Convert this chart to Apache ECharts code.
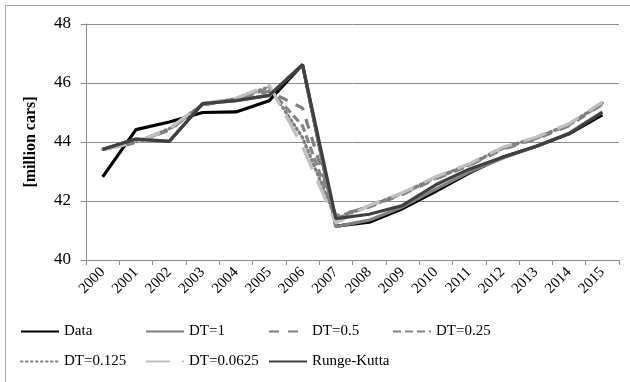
<!DOCTYPE html>
<html>
<head>
<meta charset="utf-8">
<script src="https://cdn.jsdelivr.net/npm/echarts@6/dist/echarts.min.js"></script>
<style>
  html, body { margin: 0; padding: 0; background: #fff; }
  #chart { width: 630px; height: 382px; }
</style>
</head>
<body>
<div id="chart"></div>
<script>
// Car stock, observed vs. simulated with different integration steps
const years = ['2000','2001','2002','2003','2004','2005','2006','2007','2008','2009','2010','2011','2012','2013','2014','2015'];

const observed = [42.82, 44.42, 44.68, 45.00, 45.02, 45.40, 46.62, 41.15, 41.28, 41.74, 42.33, 42.95, 43.48, 43.85, 44.28, 44.92];
const dt1      = [43.75, 44.10, 44.02, 45.30, 45.40, 45.58, 46.62, 41.13, 41.35, 41.80, 42.40, 42.98, 43.45, 43.85, 44.30, 45.02];
const dt05     = [43.75, 43.98, 44.40, 45.25, 45.45, 45.72, 45.15, 41.50, 41.80, 42.22, 42.75, 43.20, 43.75, 44.10, 44.55, 45.28];
const dt025    = [43.75, 43.98, 44.42, 45.27, 45.45, 45.80, 44.55, 41.45, 41.82, 42.25, 42.78, 43.22, 43.78, 44.12, 44.58, 45.30];
const dt0125   = [43.75, 44.00, 44.45, 45.28, 45.47, 45.87, 44.15, 41.40, 41.83, 42.27, 42.80, 43.24, 43.80, 44.14, 44.60, 45.32];
const dt00625  = [43.75, 44.00, 44.45, 45.30, 45.48, 45.93, 43.85, 41.25, 41.85, 42.28, 42.82, 43.26, 43.82, 44.16, 44.62, 45.35];
const rungeKutta = [43.75, 44.10, 44.02, 45.30, 45.40, 45.58, 46.62, 41.40, 41.55, 41.85, 42.55, 43.08, 43.48, 43.85, 44.28, 45.00];

const yTicks = { min: 40, max: 48, interval: 2 };

const FONT = '"Liberation Serif", "Times New Roman", serif';

const seriesDefs = [
  { name: 'Data',         values: observed,   color: '#000000', type: 'solid' },
  { name: 'DT=1',         values: dt1,        color: '#7f7f7f', type: 'solid' },
  { name: 'DT=0.5',       values: dt05,       color: '#808080', type: [10, 9] },
  { name: 'DT=0.25',      values: dt025,      color: '#858585', type: [8, 4] },
  { name: 'DT=0.125',     values: dt0125,     color: '#7f7f7f', type: [1.5, 3.5], cap: 'round' },
  { name: 'DT=0.0625',    values: dt00625,    color: '#c0c0c0', type: [24, 12] },
  { name: 'Runge-Kutta',  values: rungeKutta, color: '#404040', type: 'solid' }
];

// legend slots: [left, top] for each entry, two rows
const legendSlots = [[20, 324], [145, 324], [268, 324], [392, 324], [20, 354], [145, 354], [268, 354]];

const legends = seriesDefs.map((s, i) => ({
  data: [s.name],
  left: legendSlots[i][0],
  top: legendSlots[i][1],
  padding: 0,
  itemWidth: 38,
  itemHeight: 16,
  itemGap: 0,
  itemStyle: { opacity: 0 },
  textStyle: { fontFamily: FONT, fontSize: 15, color: '#000' }
}));

const chart = echarts.init(document.getElementById('chart'), null, { renderer: 'canvas' });

chart.setOption({
  animation: false,
  backgroundColor: '#ffffff',
  graphic: [{
    type: 'rect',
    shape: { x: 5.5, y: 5.5, width: 660, height: 420 },
    style: { fill: 'none', stroke: '#a6a6a6', lineWidth: 1 },
    silent: true,
    z: -10
  }],
  grid: { left: 86, right: 11, top: 24, bottom: 122, containLabel: false },
  legend: legends,
  xAxis: {
    type: 'category',
    data: years,
    boundaryGap: true,
    axisLine: { show: true, lineStyle: { color: '#8c8c8c', width: 1 } },
    axisTick: { show: true, length: 5, interval: 0, lineStyle: { color: '#8c8c8c' } },
    axisLabel: {
      interval: 0,
      rotate: 45,
      margin: 10,
      fontFamily: FONT,
      fontSize: 15,
      color: '#000'
    },
    splitLine: { show: false }
  },
  yAxis: {
    type: 'value',
    min: yTicks.min,
    max: yTicks.max,
    interval: yTicks.interval,
    name: '[million cars]',
    nameLocation: 'middle',
    nameGap: 47,
    nameTextStyle: { fontFamily: FONT, fontSize: 16, fontWeight: 'bold', color: '#000' },
    axisLine: { show: true, lineStyle: { color: '#8c8c8c', width: 1 } },
    axisTick: { show: true, length: 5, lineStyle: { color: '#8c8c8c' } },
    axisLabel: { margin: 15, fontFamily: FONT, fontSize: 17, color: '#000' },
    splitLine: { show: true, lineStyle: { color: '#8c8c8c', width: 1 } }
  },
  series: seriesDefs.map((s, i) => ({
    name: s.name,
    type: 'line',
    data: s.values,
    symbol: 'none',
    smooth: false,
    z: 2 + i,
    lineStyle: { color: s.color, width: 3.2, type: s.type, cap: s.cap || 'butt' },
    itemStyle: { color: s.color }
  }))
});
</script>
</body>
</html>
